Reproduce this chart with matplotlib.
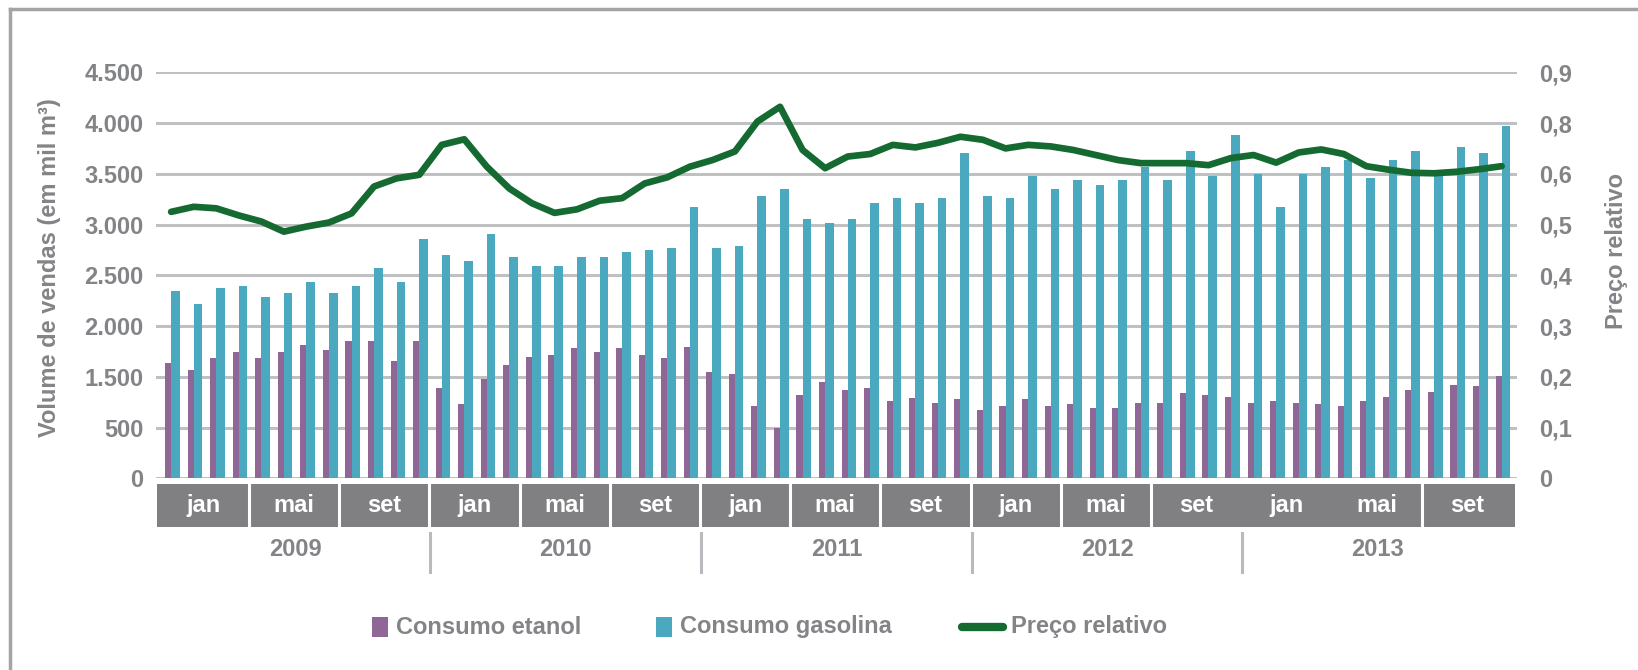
import matplotlib.pyplot as plt
import matplotlib.transforms as mtransforms
from matplotlib.patches import Rectangle
from matplotlib.lines import Line2D
import numpy as np

plt.rcParams['font.family'] = ['Liberation Sans', 'DejaVu Sans']

# dados mensais jan/2009 - dez/2013 (mil m3)
anos = ['2009', '2010', '2011', '2012', '2013']
meses_rotulo = ['jan', 'mai', 'set']

consumo_etanol = [1140, 1067, 1182, 1248, 1182, 1241, 1314, 1268, 1356, 1356, 1159, 1356,
                  893, 729, 979, 1117, 1199, 1212, 1287, 1248, 1287, 1212, 1182, 1297,
                  1051, 1028, 716, 493, 818, 952, 870, 893, 762, 788, 745, 778,
                  673, 716, 778, 716, 732, 696, 696, 745, 745, 837, 821, 805,
                  745, 762, 745, 729, 716, 762, 805, 870, 851, 920, 910, 1008]

consumo_gasolina = [1849, 1714, 1872, 1892, 1783, 1829, 1938, 1829, 1892, 2069, 1938, 2358,
                    2204, 2138, 2404, 2181, 2092, 2092, 2181, 2181, 2227, 2250, 2269, 2670,
                    2269, 2292, 2782, 2847, 2558, 2512, 2558, 2716, 2759, 2716, 2759, 3202,
                    2782, 2759, 2982, 2847, 2936, 2893, 2936, 3071, 2936, 3225, 2982, 3379,
                    2998, 2670, 2998, 3071, 3136, 2956, 3136, 3225, 2988, 3268, 3202, 3468]

preco_relativo = [0.525, 0.535, 0.532, 0.518, 0.506, 0.486, 0.496, 0.504, 0.522, 0.575, 0.591, 0.598,
                  0.657, 0.668, 0.614, 0.571, 0.542, 0.523, 0.530, 0.547, 0.552, 0.581, 0.593, 0.614,
                  0.627, 0.644, 0.703, 0.732, 0.647, 0.611, 0.634, 0.639, 0.657, 0.652, 0.661, 0.673,
                  0.667, 0.650, 0.657, 0.654, 0.647, 0.637, 0.627, 0.621, 0.621, 0.621, 0.617, 0.631,
                  0.637, 0.622, 0.642, 0.648, 0.639, 0.615, 0.608, 0.602, 0.601, 0.604, 0.609, 0.615]

# rotulos dos eixos como aparecem no original
rotulos_esq = ['0', '500', '1.500', '2.000', '2.500', '3.000', '3.500', '4.000', '4.500']
rotulos_dir = ['0', '0,1', '0,2', '0,3', '0,4', '0,5', '0,6', '0,8', '0,9']

cor_etanol = '#8f6796'
cor_gasolina = '#4aa8bf'
cor_preco = '#156a31'
cinza = '#838487'
cinza_grade = '#bfc0c2'

fig = plt.figure(figsize=(16.38, 6.70), dpi=100)
W, H = 1638, 670
ax = fig.add_axes([156 / W, (H - 478.3) / H, (1517 - 156) / W, (478.3 - 72.3) / H])
ax2 = ax.twinx()

x = np.arange(len(consumo_etanol))
ax.bar(x, consumo_etanol, width=-0.27, align='edge', color=cor_etanol, zorder=2)
ax.bar(x, consumo_gasolina, width=0.38, align='edge', color=cor_gasolina, zorder=2)

ax.set_xlim(-0.67, 59.68)
ax.set_ylim(0, 4000)
ticks_esq = np.arange(0, 4001, 500)
for v in ticks_esq:
    ax.axhline(v, color=cinza_grade, lw=2.2, zorder=0)
ax.set_yticks(ticks_esq)
ax.set_yticklabels(rotulos_esq, fontweight='bold', color=cinza, fontsize=17)
ax.tick_params(axis='y', length=0, pad=9)
ax.set_xticks([])

ax2.plot(x, preco_relativo, color=cor_preco, lw=4.8, solid_joinstyle='round',
         solid_capstyle='round', zorder=3)
ax2.set_ylim(0, 0.8)
ax2.set_yticks(np.arange(0, 0.81, 0.1))
ax2.set_yticklabels(rotulos_dir, fontweight='bold', color=cinza, fontsize=17)
ax2.tick_params(axis='y', length=0, pad=16)

for a in (ax, ax2):
    for s in a.spines.values():
        s.set_visible(False)

ax.set_ylabel('Volume de vendas (em mil m³)', fontweight='bold', color=cinza, fontsize=17)
ax.yaxis.set_label_coords(-0.070, 0.52)
ax2.set_ylabel('Preço relativo', fontweight='bold', color=cinza, fontsize=17, rotation=90)
ax2.yaxis.set_label_coords(1.0645, 0.56)

# faixa de meses e anos abaixo do eixo
trans = mtransforms.blended_transform_factory(ax.transData, ax.transAxes)
ax.add_patch(Rectangle((-0.63, -0.121), 60.23, 0.107, transform=trans,
                       facecolor='#808083', edgecolor='none', clip_on=False))
for k in range(15):
    ini = 4 * k - 0.55
    ax.text(ini + 2, -0.068, meses_rotulo[k % 3], transform=trans, ha='center', va='center',
            color='white', fontweight='bold', fontsize=17)
    if k > 0 and k not in (12, 13):
        ax.plot([ini, ini], [-0.121, -0.014], transform=trans, color='white', lw=2.2,
                clip_on=False)
for j, ano in enumerate(anos):
    ax.text(12 * j + 5.5, -0.176, ano, transform=trans, ha='center', va='center',
            color=cinza, fontweight='bold', fontsize=17)
    if j > 0:
        ax.plot([12 * j - 0.5] * 2, [-0.135, -0.231], transform=trans, color='#b9babd',
                lw=2.2, clip_on=False)

# legenda
yl = (H - 627) / H
fig.add_artist(Rectangle((372 / W, (H - 637) / H), 16 / W, 20 / H, transform=fig.transFigure,
                         facecolor=cor_etanol, edgecolor='none'))
fig.text(396 / W, yl, 'Consumo etanol', color=cinza, fontweight='bold', fontsize=17, va='center')
fig.add_artist(Rectangle((656 / W, (H - 637) / H), 16 / W, 20 / H, transform=fig.transFigure,
                         facecolor=cor_gasolina, edgecolor='none'))
fig.text(680 / W, yl, 'Consumo gasolina', color=cinza, fontweight='bold', fontsize=17, va='center')
fig.add_artist(Line2D([962 / W, 1003 / W], [yl, yl], transform=fig.transFigure, color=cor_preco,
                      lw=6, solid_capstyle='round'))
fig.text(1011 / W, yl, 'Preço relativo', color=cinza, fontweight='bold', fontsize=17, va='center')

# moldura
fig.add_artist(Line2D([10 / W, 1], [1 - 9 / H] * 2, transform=fig.transFigure, color='#a4a4a6', lw=2.5))
fig.add_artist(Line2D([10 / W] * 2, [0, 1 - 9 / H], transform=fig.transFigure, color='#a4a4a6', lw=2.5))

fig.savefig('out.png', dpi=100, facecolor='white')
